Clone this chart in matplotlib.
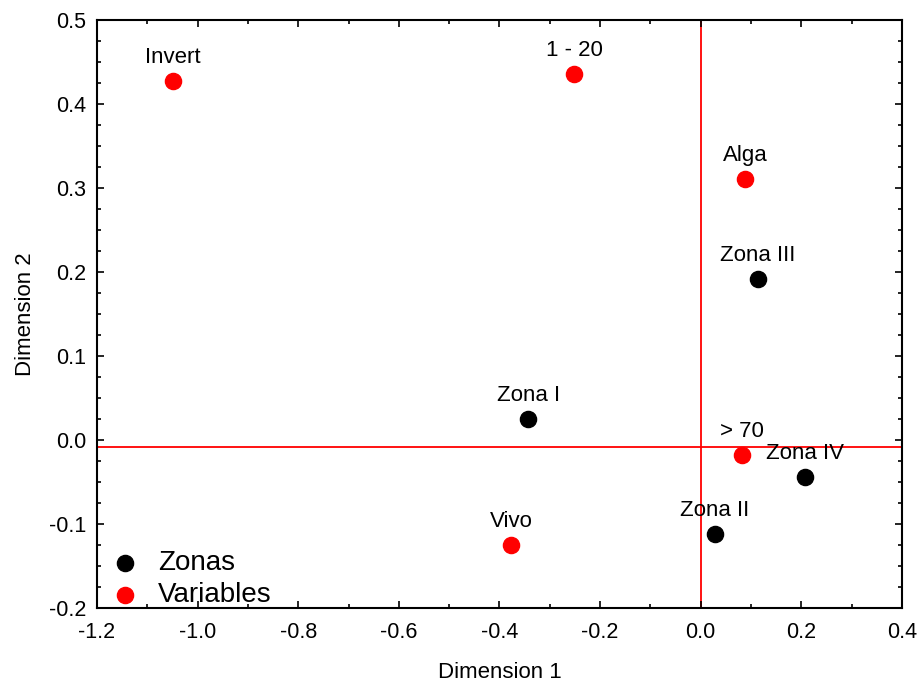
import numpy as np
import matplotlib
matplotlib.use('Agg')
import matplotlib.pyplot as plt
from matplotlib.ticker import MultipleLocator, FormatStrFormatter

plt.rcParams['font.family'] = ['Liberation Sans', 'DejaVu Sans']

## zonas (black) and variables (red)
zona_names = ['Zona I', 'Zona II', 'Zona III', 'Zona IV']
zona_x = [-0.343, 0.028, 0.114, 0.207]
zona_y = [0.025, -0.112, 0.192, -0.044]

var_names = ['Invert', '1 - 20', 'Alga', '> 70', 'Vivo']
var_x = [-1.049, -0.252, 0.088, 0.082, -0.377]
var_y = [0.427, 0.436, 0.311, -0.018, -0.125]

## reference lines
x_ref = 0.0
y_ref = -0.008

fig = plt.figure(figsize=(9.18, 6.87), dpi=100)
ax = fig.add_axes([97/918, 79/687, 805/918, 588/687])

ax.axvline(x_ref, color='red', lw=1.3, zorder=1)
ax.axhline(y_ref, color='red', lw=1.3, zorder=1)

ax.scatter(zona_x, zona_y, s=135, c='black', label='Zonas', zorder=3)
ax.scatter(var_x, var_y, s=135, c='red', label='Variables', zorder=3)

for n, x, y in zip(zona_names + var_names, zona_x + var_x, zona_y + var_y):
    ax.annotate(n, (x, y), xytext=(0, 17), textcoords='offset points',
                ha='center', va='center', fontsize=16)

ax.set_xlim(-1.2, 0.4)
ax.set_ylim(-0.2, 0.5)
ax.xaxis.set_major_locator(MultipleLocator(0.2))
ax.xaxis.set_minor_locator(MultipleLocator(0.1))
ax.yaxis.set_major_locator(MultipleLocator(0.1))
ax.yaxis.set_minor_locator(MultipleLocator(0.025))
ax.xaxis.set_major_formatter(FormatStrFormatter('%.1f'))
ax.yaxis.set_major_formatter(FormatStrFormatter('%.1f'))
ax.tick_params(which='both', direction='in', top=True, right=True, width=1.2)
ax.tick_params(which='major', length=5, labelsize=15.5)
ax.tick_params(axis='x', which='major', pad=10)
ax.tick_params(axis='y', which='major', pad=8)
ax.tick_params(which='minor', length=3)
for s in ax.spines.values():
    s.set_linewidth(1.5)

ax.set_xlabel('Dimension 1', fontsize=16, labelpad=14)
ax.set_ylabel('Dimension 2', fontsize=16, labelpad=9)

ax.legend(loc='lower left', frameon=False, fontsize=20, handletextpad=0.7,
          handlelength=1.0, borderpad=0, borderaxespad=0, labelspacing=0.2,
          bbox_to_anchor=(0.017, 0.0))

fig.savefig('out.png', dpi=100)
